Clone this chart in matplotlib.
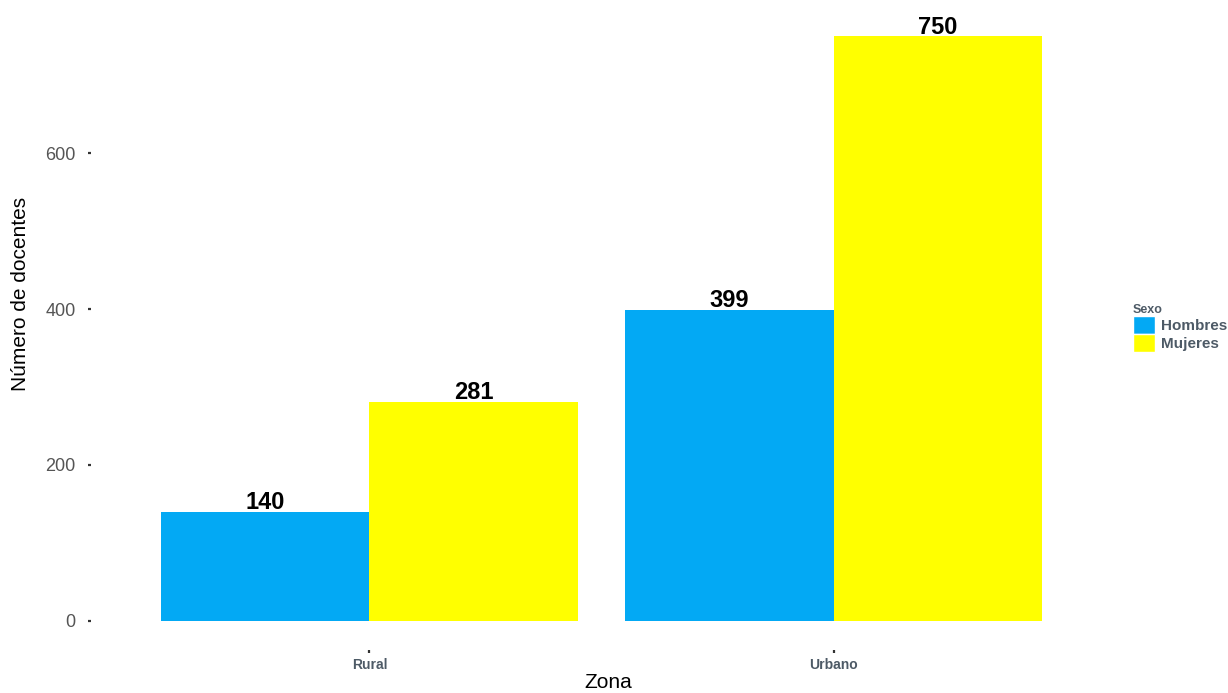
import matplotlib
matplotlib.use("Agg")
import matplotlib.pyplot as plt
from matplotlib.patches import Patch
import numpy as np

plt.rcParams["font.family"] = ["Liberation Sans", "DejaVu Sans"]

# ── Data ─────────────────────────────────────────────────────────────────────
zonas = ["Rural", "Urbano"]
hombres = [140, 399]
mujeres = [281, 750]
sexo_labels = ["Hombres", "Mujeres"]
y_ticks = [0, 200, 400, 600]

C_H = "#03A9F4"
C_M = "#FFFF00"
GREY = "#4D5A66"

fig = plt.figure(figsize=(12.28, 6.93), dpi=100)
ax = fig.add_axes([91 / 1228, 1 - 650 / 693, (1112 - 91) / 1228, (650 - 7) / 693])

x = np.arange(1, len(zonas) + 1)
w = 0.45
b1 = ax.bar(x - w / 2, hombres, width=w, color=C_H)
b2 = ax.bar(x + w / 2, mujeres, width=w, color=C_M)

for bars, vals in ((b1, hombres), (b2, mujeres)):
    for rect, v in zip(bars, vals):
        ax.text(rect.get_x() + rect.get_width() / 2, v - 3, str(v),
                ha="center", va="bottom", fontsize=17, fontweight="bold",
                color="black")

ymax = max(mujeres)
ax.set_xlim(0.4, 2.6)
ax.set_ylim(-0.05 * ymax, 1.05 * ymax)
ax.set_yticks(y_ticks)
ax.set_xticks(x)
ax.set_xticklabels(zonas, fontsize=10, fontweight="bold", color=GREY)
ax.tick_params(axis="y", labelsize=13, labelcolor="#555555", length=2,
               width=1.6, color="#333333", pad=9)
ax.tick_params(axis="x", length=2, width=1.6, color="#333333", pad=4)
for s in ax.spines.values():
    s.set_visible(False)

ax.set_ylabel("Número de docentes", fontsize=15, color="black")
ax.set_xlabel("Zona", fontsize=15, color="black", va="center")
ax.yaxis.set_label_coords(-0.06, 0.554)
ax.xaxis.set_label_coords(0.507, -0.05)

handles = [Patch(facecolor=C_H, edgecolor="white"), Patch(facecolor=C_M, edgecolor="white")]
leg = fig.legend(handles, sexo_labels, title="Sexo", loc="center left",
                 bbox_to_anchor=(1127 / 1228, 1 - 328 / 693), frameon=False,
                 handlelength=1.4, handleheight=1.4, handletextpad=0.4,
                 labelspacing=0.0, borderaxespad=0,
                 prop={"size": 11, "weight": "bold"})
leg.get_title().set_fontsize(9)
leg.get_title().set_fontweight("bold")
leg.get_title().set_color(GREY)
leg._legend_box.align = "left"
for t in leg.get_texts():
    t.set_color(GREY)

fig.savefig("out.png", dpi=100)
